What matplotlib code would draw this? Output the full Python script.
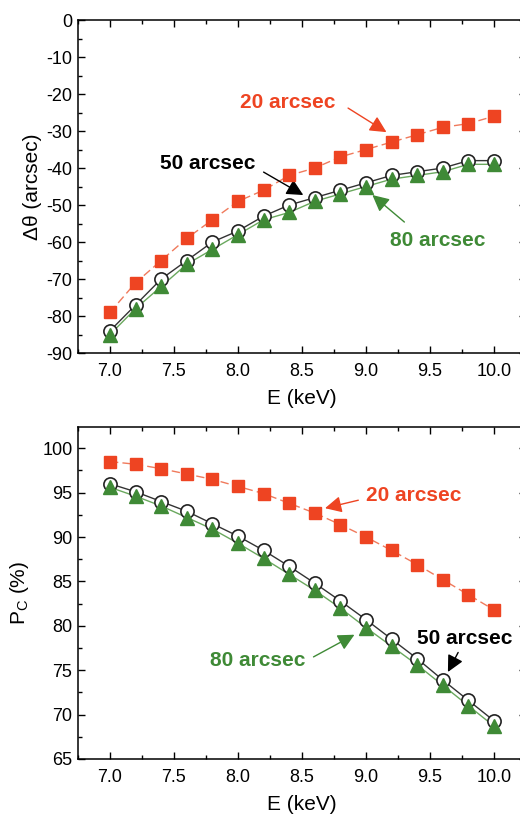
import numpy as np
import matplotlib
matplotlib.use("Agg")
import matplotlib.pyplot as plt
from matplotlib.ticker import MultipleLocator

plt.rcParams["font.family"] = ["Liberation Sans", "DejaVu Sans"]
plt.rcParams["mathtext.fontset"] = "custom"
plt.rcParams["mathtext.rm"] = "Liberation Sans"
plt.rcParams["mathtext.it"] = "Liberation Sans:italic"
plt.rcParams["axes.unicode_minus"] = False

energy = [7.0, 7.2, 7.4, 7.6, 7.8, 8.0, 8.2, 8.4, 8.6, 8.8, 9.0, 9.2, 9.4, 9.6, 9.8, 10.0]

# angular shift (arcsec)
dtheta_20 = [-79, -71, -65, -59, -54, -49, -46, -42, -40, -37, -35, -33, -31, -29, -28, -26]
dtheta_50 = [-84, -77, -70, -65, -60, -57, -53, -50, -48, -46, -44, -42, -41, -40, -38, -38]
dtheta_80 = [-85, -78, -72, -66, -62, -58, -54, -52, -49, -47, -45, -43, -42, -41, -39, -39]

# P_C (%)
pc_20 = [98.5, 98.2, 97.7, 97.1, 96.5, 95.7, 94.9, 93.8, 92.7, 91.4, 90.0, 88.5, 86.9, 85.2, 83.5, 81.8]
pc_50 = [96.0, 95.1, 94.0, 92.9, 91.5, 90.1, 88.5, 86.7, 84.8, 82.8, 80.7, 78.5, 76.3, 73.9, 71.6, 69.3]
pc_80 = [95.6, 94.6, 93.5, 92.2, 90.9, 89.3, 87.6, 85.8, 84.0, 82.0, 79.8, 77.7, 75.6, 73.3, 71.0, 68.7]

red = "#ee4422"
red_line = "#f07a5c"
green = "#3f8a36"
green_line = "#6aa85e"

fig = plt.figure(figsize=(5.2, 8.17), dpi=100)
ax1 = fig.add_axes([0.15, 0.5679, 0.8615, 0.4076])
ax2 = fig.add_axes([0.15, 0.0710, 0.8615, 0.4064])


def draw(ax, y20, y50, y80):
    ax.plot(energy, y80, color=green_line, lw=1.0, zorder=2)
    ax.plot(energy, y50, color="#333333", lw=1.0, zorder=2)
    ax.plot(energy, y20, color=red_line, lw=1.0, dashes=(6, 3), zorder=2)
    ax.plot(energy, y50, ls="none", marker="o", ms=9.5, mfc="white",
            mec="#222222", mew=1.2, zorder=3)
    ax.plot(energy, y80, ls="none", marker="^", ms=10.5, mfc=green,
            mec=green, zorder=4)
    ax.plot(energy, y20, ls="none", marker="s", ms=9, mfc=red, mec=red, zorder=4)
    ax.set_xlim(6.75, 10.25)
    ax.xaxis.set_major_locator(MultipleLocator(0.5))
    ax.xaxis.set_minor_locator(MultipleLocator(0.25))
    ax.tick_params(which="both", direction="in", top=True, right=True,
                   labelsize=13, width=1.0)
    ax.tick_params(which="major", length=5)
    ax.tick_params(which="minor", length=3)
    ax.tick_params(axis="x", pad=7)
    ax.tick_params(axis="y", pad=4)
    for s in ax.spines.values():
        s.set_linewidth(1.1)
    ax.set_xlabel("E (keV)", fontsize=15, labelpad=7)


def note(ax, text, color, xy, xytext, start):
    ax.annotate("", xy=xy, xytext=start,
                arrowprops=dict(arrowstyle="-|>,head_length=0.5,head_width=0.25",
                                color=color, lw=1.0,
                                mutation_scale=20, shrinkA=0, shrinkB=0))
    ax.text(xytext[0], xytext[1], text, color=color, fontsize=15,
            fontweight="bold", ha="center", va="center")


draw(ax1, dtheta_20, dtheta_50, dtheta_80)
ax1.set_ylim(-90, 0)
ax1.yaxis.set_major_locator(MultipleLocator(10))
ax1.yaxis.set_minor_locator(MultipleLocator(5))
ax1.set_ylabel("\u0394\u03b8 (arcsec)", fontsize=15, labelpad=3)
note(ax1, "20 arcsec", red, (9.16, -30.3), (8.39, -22.2), (8.86, -23.8))
note(ax1, "50 arcsec", "black", (8.51, -47.3), (7.76, -38.7), (8.20, -41.1))
note(ax1, "80 arcsec", green, (9.05, -47.3), (9.56, -59.5), (9.30, -54.6))

draw(ax2, pc_20, pc_50, pc_80)
ax2.set_ylim(65, 102.4)
ax2.yaxis.set_major_locator(MultipleLocator(5))
ax2.yaxis.set_minor_locator(MultipleLocator(2.5))
ax2.set_ylabel("P$_\\mathrm{C}$ (%)", fontsize=15, labelpad=8)
note(ax2, "20 arcsec", red, (8.68, 93.25), (9.375, 94.7), (8.94, 94.15))
note(ax2, "50 arcsec", "black", (9.64, 74.8), (9.77, 78.6), (9.72, 77.0))
note(ax2, "80 arcsec", green, (8.91, 79.0), (8.15, 76.1), (8.59, 76.5))

fig.savefig("out.png", dpi=100)
